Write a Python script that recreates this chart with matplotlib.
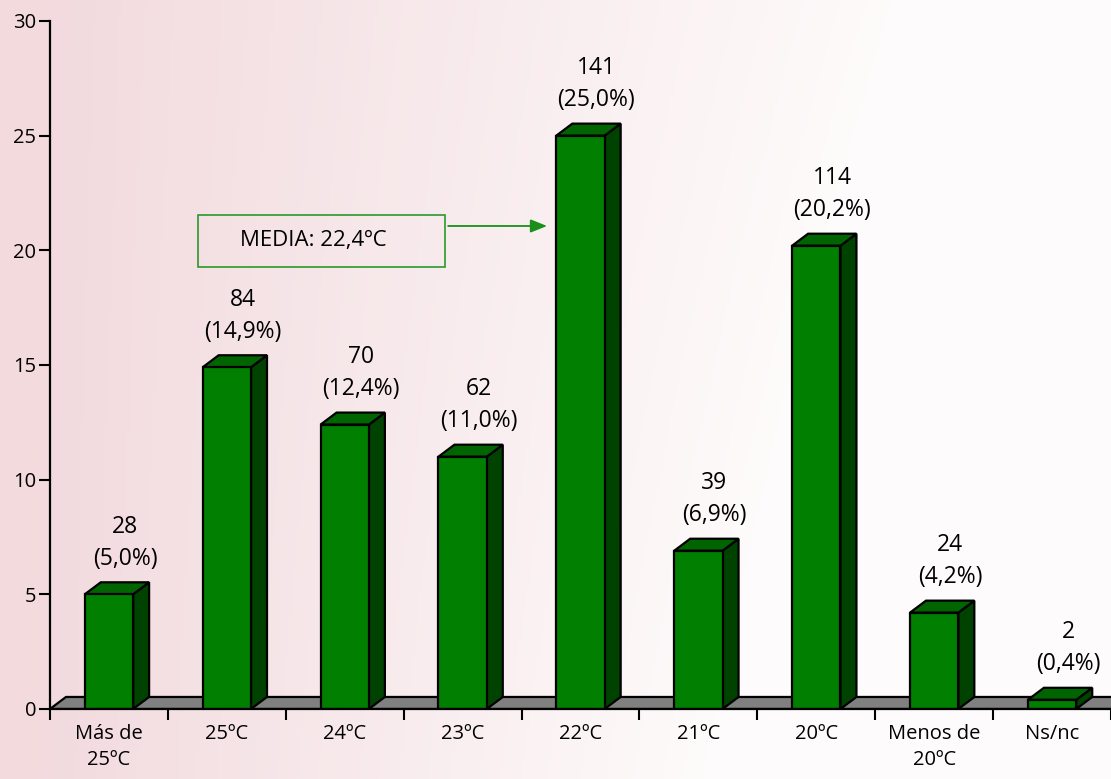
import numpy as np
import matplotlib
matplotlib.use('Agg')
import matplotlib.pyplot as plt
from matplotlib.patches import Polygon, Rectangle

plt.rcParams['font.family'] = ['Open Sans', 'DejaVu Sans']

# data
categories = ['Más de\n25ºC', '25ºC', '24ºC', '23ºC', '22ºC', '21ºC', '20ºC', 'Menos de\n20ºC', 'Ns/nc']
percent = [5.0, 14.9, 12.4, 11.0, 25.0, 6.9, 20.2, 4.2, 0.4]
counts = [28, 84, 70, 62, 141, 39, 114, 24, 2]
pct_labels = ['5,0', '14,9', '12,4', '11,0', '25,0', '6,9', '20,2', '4,2', '0,4']

fig = plt.figure(figsize=(11.11, 7.79), dpi=100)

# faded pink background (pink on the left, almost white on the right)
bg = fig.add_axes([0, 0, 1, 1], zorder=-10)
gx = np.linspace(0, 1, 300)
gy = np.linspace(0, 1, 200)
X, Y = np.meshgrid(gx, gy)
t = np.clip(1.3 * X + 0.35 * (1 - Y) * X - 0.05, 0, 1)
c0 = np.array([0.95, 0.855, 0.87])
c1 = np.array([0.995, 0.985, 0.985])
img = c0[None, None, :] * (1 - t[..., None]) + c1[None, None, :] * t[..., None]
bg.imshow(img, aspect='auto', extent=[0, 1, 0, 1], origin='lower')
bg.axis('off')

ax = fig.add_axes([0.045, 0.0899, 0.955, 0.8832])
ax.patch.set_alpha(0)

x = np.arange(len(categories))
w = 0.41
dxp, dyp = 16, 12  # depth offset in pixels

front = '#007f00'
side = '#004200'
top = '#006400'

ax.bar(x, percent, width=w, color=front, edgecolor='black', linewidth=1.6, zorder=3)
ax.set_xlim(-0.5, 8.5)
ax.set_ylim(0, 30)
fig.canvas.draw()

def shifted(px, py):
    p = ax.transData.transform((px, py)) + np.array([dxp, dyp])
    return tuple(ax.transData.inverted().transform(p))

# floor
ax.add_patch(Polygon([(-0.5, 0), (8.5, 0), shifted(8.5, 0), shifted(-0.5, 0)], closed=True,
                     facecolor='#808080', edgecolor='black', linewidth=1.6, zorder=1))

for xi, v in zip(x, percent):
    l, r = xi - w / 2, xi + w / 2
    ax.add_patch(Polygon([(r, 0), (r, v), shifted(r, v), shifted(r, 0)], closed=True,
                         facecolor=side, edgecolor='black', linewidth=1.6, zorder=2))
    ax.add_patch(Polygon([(l, v), (r, v), shifted(r, v), shifted(l, v)], closed=True,
                         facecolor=top, edgecolor='black', linewidth=1.6, zorder=2))

for xi, v, n, p in zip(x, percent, counts, pct_labels):
    lx = shifted(xi, v)[0]
    ax.annotate(f'{n}\n({p}%)', (lx, v), xytext=(0, 17), textcoords='offset points',
                ha='center', va='bottom', fontsize=16.5, linespacing=1.45)

# mean annotation
ax.add_patch(Rectangle((0.754, 19.28), 2.1, 2.26, facecolor='none', edgecolor='#2a9a2a',
                       linewidth=1.2, zorder=4))
ax.text(1.11, 20.41, 'MEDIA: 22,4ºC', ha='left', va='center', fontsize=16, zorder=5)
ax.annotate('', xy=(3.74, 21.06), xytext=(2.854, 21.06),
            arrowprops=dict(arrowstyle='-|>,head_length=1.0,head_width=0.4', color='#1a8f1a', lw=1.3))

ax.set_yticks([0, 5, 10, 15, 20, 25, 30])
ax.set_xticks(x)
ax.set_xticklabels(categories, fontsize=14.5, linespacing=1.4)
ax.set_xticks(np.arange(-0.5, 9, 1), minor=True)
ax.tick_params(axis='x', which='major', length=0, pad=11)
ax.tick_params(axis='x', which='minor', length=8, width=1.5, direction='out')
ax.tick_params(axis='y', length=8, width=1.5, direction='out', labelsize=14.5, pad=2)
for s in ['top', 'right']:
    ax.spines[s].set_visible(False)
ax.spines['left'].set_linewidth(1.6)
ax.spines['bottom'].set_linewidth(1.6)
ax.spines['bottom'].set_zorder(6)

fig.savefig('out.png', dpi=100)
